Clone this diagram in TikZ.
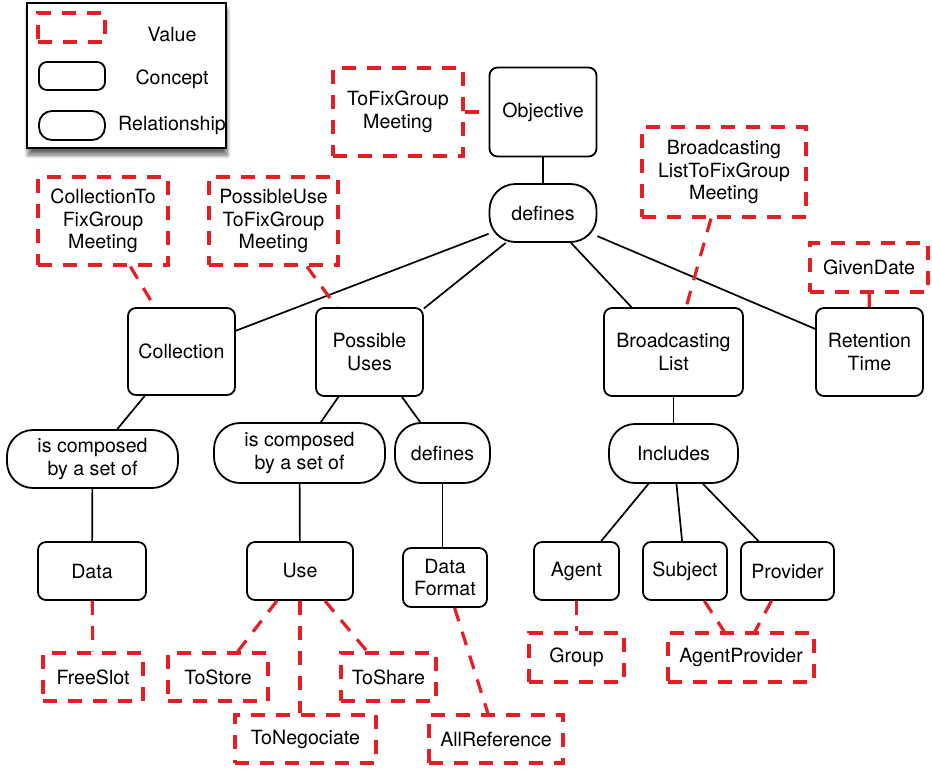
\documentclass[tikz,border=0pt]{standalone}
\usepackage{fontspec}
\setmainfont{TeX Gyre Heros}
\usetikzlibrary{shadows.blur}
\definecolor{valred}{RGB}{228,30,36}

\begin{document}
\begin{tikzpicture}[x=0.5pt, y=-0.5pt,
    font=\fontsize{9.8}{11.3}\selectfont,
    every node/.append style={align=center, inner sep=0pt},
    concept/.style={draw, line width=0.9pt, rounded corners=4pt},
    relation/.style={draw, line width=0.9pt, rounded corners=13pt},
    value/.style={draw=valred, line width=1.6pt, dash pattern=on 7pt off 5.5pt},
    wh/.style 2 args={minimum width=#1, minimum height=#2},
    link/.style={line width=0.85pt},
    vlink/.style={draw=valred, line width=1.6pt, dash pattern=on 7pt off 5.5pt}
  ]
  \useasboundingbox (0,0) rectangle (932,768);

  % Key
  \node[draw, line width=1pt, fill=white, wh={99.5pt}{72.5pt},
        blur shadow={shadow xshift=0.5pt, shadow yshift=-3.5pt,
                     shadow opacity=60, shadow blur steps=6}]
        (legend) at (126.5,75.5) {};
  \node[value, wh={33.5pt}{14.5pt}] (keyvalue) at (71.5,27.5) {};
  \node[concept, wh={33pt}{14pt}] (keyconcept) at (72,76) {};
  \node[draw, line width=0.9pt, rounded corners=6.5pt, wh={33pt}{14.5pt}] (keyrelation) at (72,125.5) {};
  \node (keyvaluetxt) at (172,34) {Value};
  \node (keyconcepttxt) at (172,79) {Concept};
  \node (keyrelationtxt) at (172,125) {Relationship};

  % Top of the tree
  \node[concept, wh={53.5pt}{44.5pt}] (objective) at (543,112) {Objective};
  \node[value, wh={65pt}{44pt}] (tofixgroup) at (398,112) {ToFixGroup\\Meeting};
  \node[relation, wh={53.5pt}{29pt}] (defines) at (543,213) {defines};

  % Second level
  \node[value, wh={65pt}{44pt}] (collectionval) at (103,221) {CollectionTo\\FixGroup\\Meeting};
  \node[value, wh={64.5pt}{44pt}] (possibleval) at (273.5,221) {PossibleUse\\ToFixGroup\\Meeting};
  \node[value, wh={82pt}{45pt}] (broadcastval) at (724,172) {Broadcasting\\ListToFixGroup\\Meeting};
  \node[value, wh={59pt}{24.5pt}] (givendate) at (869,267.5) {GivenDate};

  \node[concept, wh={53.5pt}{43.5pt}] (collection) at (181.5,351.5) {Collection};
  \node[concept, wh={53.5pt}{44pt}] (possibleuses) at (369.5,352) {Possible\\Uses};
  \node[concept, wh={69.5pt}{44pt}] (broadcast) at (673.5,352) {Broadcasting\\List};
  \node[concept, wh={53.5pt}{44pt}] (retention) at (869.5,352) {Retention\\Time};

  % Relationships below
  \node[relation, wh={85.5pt}{29pt}] (composedA) at (92.5,459) {is composed\\by a set of};
  \node[relation, wh={85.5pt}{30pt}] (composedB) at (299.5,453) {is composed\\by a set of};
  \node[relation, wh={47.5pt}{30pt}] (definesB) at (442.5,453) {defines};
  \node[relation, wh={64.5pt}{29.5pt}] (includes) at (673.5,453.5) {Includes};

  % Leaf concepts
  \node[concept, wh={54pt}{29pt}] (data) at (92,571) {Data};
  \node[concept, wh={53pt}{29pt}] (use) at (300,571) {Use};
  \node[concept, wh={42pt}{29.5pt}] (dataformat) at (445,577.5) {Data\\Format};
  \node[concept, wh={42.5pt}{29pt}] (agent) at (576.5,571) {Agent};
  \node[concept, wh={42pt}{29pt}] (subject) at (685,571) {Subject};
  \node[concept, wh={46.5pt}{29pt}] (provider) at (787.5,571) {Provider};

  % Values at the bottom
  \node[value, wh={50pt}{24pt}] (freeslot) at (93,677) {FreeSlot};
  \node[value, wh={50pt}{24pt}] (tostore) at (218,677) {ToStore};
  \node[value, wh={47.5pt}{24pt}] (toshare) at (388.5,677) {ToShare};
  \node[value, wh={70.5pt}{24pt}] (tonegociate) at (305.5,739) {ToNegociate};
  \node[value, wh={67pt}{24pt}] (allreference) at (496,739) {AllReference};
  \node[value, wh={47.5pt}{24.5pt}] (group) at (576.5,657.5) {Group};
  \node[value, wh={73pt}{24.5pt}] (agentprovider) at (741,657.5) {AgentProvider};

  % Concept links
  \draw[link] (objective) -- (defines);
  \draw[link] (defines) -- (collection);
  \draw[link] (defines) -- (possibleuses);
  \draw[link] (defines) -- (broadcast);
  \draw[link] (defines) -- (retention);
  \draw[link] (collection) -- (composedA);
  \draw[link] (possibleuses) -- (composedB);
  \draw[link] (possibleuses) -- (definesB);
  \draw[link] (broadcast) -- (includes);
  \draw[link] (composedA) -- (data);
  \draw[link] (composedB) -- (use);
  \draw[link] (definesB.south) -- (dataformat.north -| definesB.south);
  \draw[link] (includes) -- (agent);
  \draw[link] (includes) -- (subject);
  \draw[link] (includes) -- (provider);

  % Value links
  \draw[vlink] (tofixgroup) -- (objective);
  \draw[vlink] (collectionval) -- (collection);
  \draw[vlink] (possibleval) -- (possibleuses);
  \draw[vlink] (broadcastval) -- (broadcast);
  \draw[vlink] (givendate) -- (retention);
  \draw[vlink] (data) -- (freeslot);
  \draw[vlink] (use) -- (tostore);
  \draw[vlink] (use.south) -- (use.south |- tonegociate.north);
  \draw[vlink] (use) -- (toshare);
  \draw[vlink] (dataformat) -- (allreference);
  \draw[vlink] (agent) -- (group);
  \draw[vlink] (subject) -- (agentprovider);
  \draw[vlink] (provider) -- (agentprovider);

\end{tikzpicture}
\end{document}
